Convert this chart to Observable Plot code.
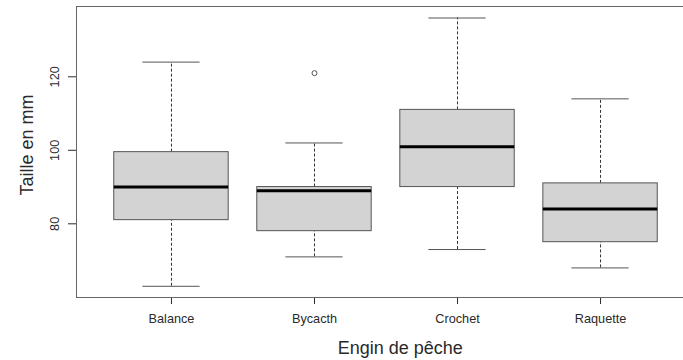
<!DOCTYPE html>
<html>
<head>
<meta charset="utf-8">
<script src="https://cdn.jsdelivr.net/npm/d3@7"></script>
<script src="https://cdn.jsdelivr.net/npm/@observablehq/plot@0.6"></script>
<style>
  html, body { margin: 0; padding: 0; background: #fff; }
  #chart svg { display: block; }
</style>
</head>
<body>
<div id="chart"></div>
<script>
const categories = ["Balance", "Bycacth", "Crochet", "Raquette"];
const lowWhisker = [63, 71, 73, 68];
const q1 = [81, 78, 90, 75];
const median = [90, 89, 101, 84];
const q3 = [99.5, 90, 111, 91];
const highWhisker = [124, 102, 136, 114];
const outlierCategories = ["Bycacth"];
const outlierValues = [121];
const yTicks = [80, 100, 120];

const xDomain = [0.336, 4.58];
const yDomain = [59.95, 139.13];

const boxes = categories.map((c, i) => ({
  cat: c, pos: i + 1,
  lo: lowWhisker[i], q1: q1[i], med: median[i], q3: q3[i], hi: highWhisker[i]
}));
const outliers = outlierCategories.map((c, i) => ({
  pos: categories.indexOf(c) + 1, value: outlierValues[i]
}));

const boxHalf = 0.4, capHalf = 0.2;
const font = "Liberation Sans, Arial, sans-serif";

const chart = Plot.plot({
  width: 683,
  height: 360,
  marginLeft: 76,
  marginRight: 0,
  marginTop: 6,
  marginBottom: 63,
  style: { fontFamily: font, fontSize: "12.7px", background: "#fff", color: "#2a2a2a" },
  x: {
    type: "linear", domain: xDomain,
    ticks: boxes.map(d => d.pos),
    tickFormat: p => categories[p - 1],
    tickSize: 7, tickPadding: 9, label: null
  },
  y: {
    domain: yDomain, ticks: yTicks, tickSize: 8,
    tickFormat: () => "", label: null
  },
  marks: [
    Plot.ruleY([yDomain[1]], { stroke: "#666" }),
    Plot.ruleY([yDomain[0]], { stroke: "#666" }),
    Plot.ruleX([xDomain[0]], { stroke: "#666" }),
    // whiskers (dashed)
    Plot.ruleX(boxes, { x: "pos", y1: "q3", y2: "hi", stroke: "#333", strokeDasharray: "3,2" }),
    Plot.ruleX(boxes, { x: "pos", y1: "lo", y2: "q1", stroke: "#333", strokeDasharray: "3,2" }),
    // caps
    Plot.ruleY(boxes, { y: "hi", x1: d => d.pos - capHalf, x2: d => d.pos + capHalf, stroke: "#555" }),
    Plot.ruleY(boxes, { y: "lo", x1: d => d.pos - capHalf, x2: d => d.pos + capHalf, stroke: "#555" }),
    // boxes
    Plot.rect(boxes, { x1: d => d.pos - boxHalf, x2: d => d.pos + boxHalf, y1: "q1", y2: "q3", fill: "#d3d3d3", stroke: "#555", strokeWidth: 1 }),
    // medians
    Plot.ruleY(boxes, { y: "med", x1: d => d.pos - boxHalf, x2: d => d.pos + boxHalf, stroke: "#000", strokeWidth: 3 }),
    // outliers
    Plot.dot(outliers, { x: "pos", y: "value", r: 2.5, stroke: "#555", fill: "none", strokeWidth: 1 }),
    // y tick labels (rotated like R)
    Plot.text(yTicks, {
      y: d => d, text: d => String(d), frameAnchor: "left",
      rotate: -90, dx: -18, textAnchor: "middle", lineAnchor: "bottom",
      fontSize: 12.7, fill: "#2a2a2a"
    }),
    // axis titles
    Plot.text(["Taille en mm"], {
      frameAnchor: "left", rotate: -90, dx: -44, dy: -7,
      textAnchor: "middle", lineAnchor: "bottom", fontSize: 18, fill: "#2a2a2a"
    }),
    Plot.text(["Engin de pêche"], {
      x: [2.6], frameAnchor: "bottom", dy: 56,
      textAnchor: "middle", lineAnchor: "bottom", fontSize: 18, fill: "#2a2a2a"
    })
  ]
});
document.getElementById("chart").appendChild(chart);
</script>
</body>
</html>
